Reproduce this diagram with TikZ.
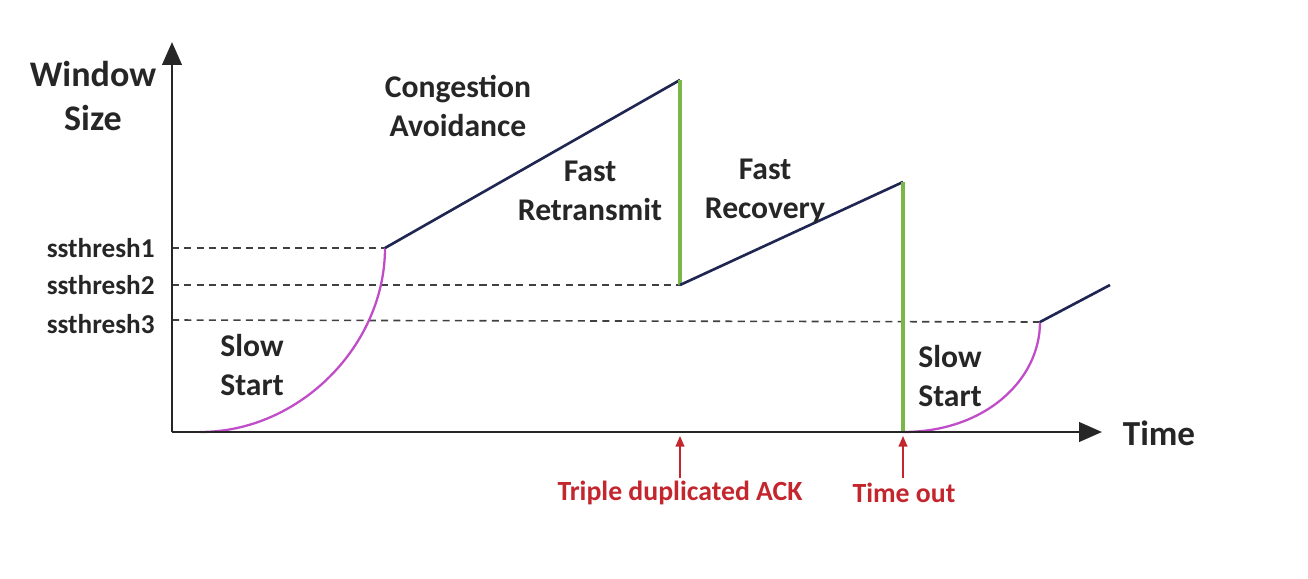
\documentclass[tikz,border=0pt]{standalone}
\usepackage{fontspec}
\setmainfont{Carlito}
\usetikzlibrary{arrows.meta}
\definecolor{navy}{HTML}{1F2652}
\definecolor{grn}{HTML}{7AB648}
\definecolor{purp}{HTML}{C04CC8}
\definecolor{redl}{HTML}{C4262E}
\tikzset{
  lbl/.style={font=\fontsize{18}{21}\selectfont\bfseries, text=black!85, align=center, inner sep=0pt},
  thr/.style={font=\fontsize{15.5}{18}\selectfont\bfseries, text=black!85, anchor=east, inner sep=0pt},
  evt/.style={font=\fontsize{15.8}{18}\selectfont\bfseries, text=redl, inner sep=0pt},
  axis/.style={line width=1.6pt, black!85, -{Triangle[length=13pt,width=11pt]}},
  dsh/.style={line width=0.9pt, black!75, dash pattern=on 4pt off 3pt},
  cwnd/.style={line width=1.5pt, navy},
  drop/.style={line width=2pt, grn},
  ss/.style={line width=1.3pt, purp},
  evarrow/.style={line width=0.8pt, redl, -{Triangle[length=6pt,width=5pt]}}
}
\begin{document}
\begin{tikzpicture}[x=0.02cm,y=-0.02cm]
\useasboundingbox (0,0) rectangle (1308,578);
% coordinates
\coordinate (O) at (172,432);
\coordinate (Ytop) at (172,42);
\coordinate (Xend) at (1102,432);
\coordinate (s1) at (172,248);
\coordinate (s2) at (172,285);
\coordinate (s3) at (172,320);
\coordinate (a0) at (200,432);
\coordinate (a1) at (385,248);
\coordinate (a2) at (680,80);
\coordinate (a3) at (680,285);
\coordinate (a4) at (903,182);
\coordinate (a5) at (903,432);
\coordinate (a6) at (1040,322);
\coordinate (a7) at (1110,285);
\coordinate (e1s) at (680,478);
\coordinate (e1t) at (680,436);
\coordinate (e2s) at (903,478);
\coordinate (e2t) at (903,436);
% dashed thresholds
\draw[dsh] (s1) -- (a1);
\draw[dsh] (s2) -- (a3);
\draw[dsh] (s3) -- (a6);
% curves
\draw[ss] (a0) .. controls (300,432) and (385,345) .. (a1);
\draw[cwnd] (a1) -- (a2);
\draw[drop] (a2) -- (a3);
\draw[cwnd] (a3) -- (a4);
\draw[drop] (a4) -- (a5);
\draw[ss] (a5) .. controls (985,432) and (1040,380) .. (a6);
\draw[cwnd] (a6) -- (a7);
% axes
\draw[axis] (O) -- (Ytop);
\draw[axis] (O) -- (Xend);
% red event arrows
\draw[evarrow] (e1s) -- (e1t);
\draw[evarrow] (e2s) -- (e2t);
% labels
\node[lbl, font=\fontsize{20.5}{24}\selectfont\bfseries] (wlab) at (93,96) {Window\\[1pt]Size};
\node[lbl, font=\fontsize{20}{24}\selectfont\bfseries] (tlab) at (1159,433) {Time};
\node[thr] (t1) at (155,248) {ssthresh1};
\node[thr] (t2) at (155,285) {ssthresh2};
\node[thr] (t3) at (155,324) {ssthresh3};
\node[lbl] (ca) at (458,106) {Congestion\\[1pt]Avoidance};
\node[lbl] (fr) at (590,191) {Fast\\[1pt]Retransmit};
\node[lbl] (frc) at (765,191) {Fast\\[1pt]Recovery};
\node[lbl] (ss1) at (252,365) {Slow\\[1pt]Start};
\node[lbl] (ss2) at (950,376) {Slow\\[1pt]Start};
\node[evt] (ev1) at (680,493) {Triple duplicated ACK};
\node[evt] (ev2) at (904,493) {Time out};
\end{tikzpicture}
\end{document}
